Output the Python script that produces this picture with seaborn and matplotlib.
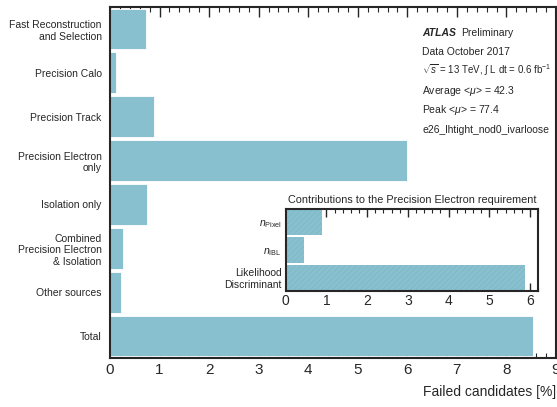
import pandas as pd
import matplotlib
matplotlib.use("Agg")
import matplotlib.pyplot as plt
from matplotlib.ticker import MultipleLocator
import seaborn as sns

# main chart data
categories = [
    "Fast Reconstruction\nand Selection",
    "Precision Calo",
    "Precision Track",
    "Precision Electron\nonly",
    "Isolation only",
    "Combined\nPrecision Electron\n& Isolation",
    "Other sources",
    "Total",
]
failed = [0.73, 0.12, 0.89, 6.0, 0.75, 0.27, 0.22, 8.53]

# inset data
inset_categories = [r"$n_{\rm Pixel}$", r"$n_{\rm IBL}$", "Likelihood\nDiscriminant"]
inset_failed = [0.89, 0.45, 5.88]

bar_color = "#89c0d0"

sns.set_style("ticks")
plt.rcParams["font.family"] = ["Liberation Sans", "DejaVu Sans"]
plt.rcParams["mathtext.fontset"] = "custom"
plt.rcParams["mathtext.rm"] = "Liberation Sans"
plt.rcParams["mathtext.it"] = "Liberation Sans:italic"
plt.rcParams["hatch.linewidth"] = 0.3

main_df = pd.DataFrame({"category": categories, "failed": failed})
inset_df = pd.DataFrame({"category": inset_categories, "failed": inset_failed})

fig = plt.figure(figsize=(5.57, 4.07), dpi=100)
ax = fig.add_axes([0.1975, 0.1204, 0.8007, 0.8624])

sns.barplot(data=main_df, x="failed", y="category", orient="h", color=bar_color,
            saturation=1, width=0.93, edgecolor="white", linewidth=0.6, ax=ax)
ax.set_xlim(0, 9)
ax.set_ylim(7.5, -0.5)
ax.set_ylabel("")
ax.set_xlabel("Failed candidates [%]", fontsize=10, loc="right", labelpad=6)
ax.xaxis.set_major_locator(MultipleLocator(1))
ax.xaxis.set_minor_locator(MultipleLocator(0.2))
ax.tick_params(axis="x", which="major", direction="in", top=True, length=7, width=1, labelsize=11)
ax.tick_params(axis="x", which="minor", direction="in", top=True, length=3.5, width=0.8)
ax.tick_params(axis="y", which="both", length=0, labelsize=7.5, pad=6)
for s in ax.spines.values():
    s.set_linewidth(1.5)
    s.set_visible(True)

# labels of the main plot
ax.text(0.700, 0.917, "ATLAS", transform=ax.transAxes, fontsize=7.5,
        fontweight="bold", style="italic")
ax.text(0.787, 0.917, "Preliminary", transform=ax.transAxes, fontsize=7.5)
info = [
    "Data October 2017",
    r"$\sqrt{s}$ = 13 TeV, $\int$ L dt = 0.6 fb$^{-1}$",
    r"Average <$\mu$> = 42.3",
    r"Peak <$\mu$> = 77.4",
    "e26_lhtight_nod0_ivarloose",
]
ypos = [0.862, 0.81, 0.752, 0.697, 0.640]
sizes = [7.5, 7.0, 7.5, 7.5, 7.5]
for txt, yy, fs in zip(info, ypos, sizes):
    ax.text(0.700, yy, txt, transform=ax.transAxes, fontsize=fs)

# inset
axin = fig.add_axes([0.513, 0.285, 0.453, 0.2015])
sns.barplot(data=inset_df, x="failed", y="category", orient="h", color=bar_color,
            saturation=1, width=0.93, ax=axin)
for p in axin.patches:
    p.set_hatch("//////")
    p.set_edgecolor("#78b0c0")
    p.set_linewidth(0)
axin.set_xlim(0, 6.2)
axin.set_ylim(2.5, -0.5)
axin.set_xlabel("")
axin.set_ylabel("")
axin.set_title("Contributions to the Precision Electron requirement", fontsize=7.8, pad=4)
axin.xaxis.set_major_locator(MultipleLocator(1))
axin.xaxis.set_minor_locator(MultipleLocator(0.2))
axin.tick_params(axis="x", which="major", direction="in", top=True, length=6, width=1, labelsize=10, pad=2)
axin.tick_params(axis="x", which="minor", direction="in", top=True, length=3, width=0.8)
axin.tick_params(axis="y", which="both", length=0, labelsize=7.5, pad=3)
for s in axin.spines.values():
    s.set_linewidth(1.5)
    s.set_visible(True)

fig.savefig("out.png", dpi=100)
